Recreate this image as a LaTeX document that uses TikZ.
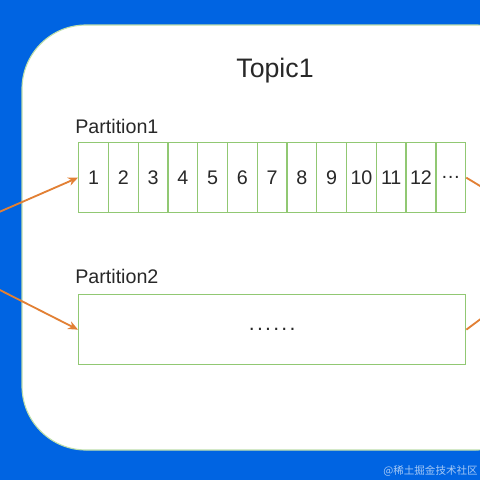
\documentclass[tikz,border=0pt]{standalone}
\usepackage{fontspec}
\setmainfont{Liberation Sans}
\newfontfamily\cjk{Noto Sans CJK SC}
\usetikzlibrary{positioning, arrows.meta}
\definecolor{bgblue}{RGB}{0,100,226}
\definecolor{cellgreen}{RGB}{145,200,115}
\definecolor{arroworange}{RGB}{226,128,52}
\definecolor{textgray}{RGB}{40,40,40}
\newcommand{\spaceddots}{.\hspace{1.6pt}.\hspace{1.6pt}.\hspace{1.6pt}.\hspace{1.6pt}.\hspace{1.6pt}.}

\begin{document}
\begin{tikzpicture}[x=0.025cm, y=-0.025cm,
        cell/.style={draw=cellgreen, line width=0.9pt, rectangle, minimum width=0.744cm, minimum height=1.75cm, inner sep=0pt, anchor=north west, text=textgray, font=\fontsize{14}{16}\selectfont},
        bigcell/.style={draw=cellgreen, line width=0.9pt, rectangle, minimum width=9.675cm, minimum height=1.75cm, inner sep=0pt, anchor=north west, text=textgray, font=\fontsize{14}{16}\selectfont},
        label/.style={anchor=base west, inner sep=0pt, text=textgray, font=\fontsize{14}{16}\selectfont},
        arrow/.style={-{Stealth[length=7pt, width=6pt]}, arroworange, line width=1.3pt},
        line/.style={arroworange, line width=1.3pt}
    ]
    % Background and topic frame
    \useasboundingbox (0,0) rectangle (480,480);
    \fill[bgblue] (0,0) rectangle (480,480);
    \begin{scope}
        \clip (0,0) rectangle (480,480);
        \draw[fill=white, draw=cellgreen!60, line width=0.8pt, rounded corners=1.6cm] (22,25) rectangle (540,450);
    \end{scope}
    \node[anchor=base, inner sep=0pt, text=textgray, font=\fontsize{19}{22}\selectfont] (topic) at (275,77) {Topic1};

    % Partition1
    \node[label] (lab1) at (75,133) {Partition1};
    \foreach \t [count=\i] in {1,...,12,{\raisebox{-1.5pt}{\char"2026}}}
        \node[cell] (c\i) at ({78+(\i-1)*29.77},142) {\t};

    % Partition2
    \node[label] (lab2) at (75,283) {Partition2};
    \node[bigcell, font=\fontsize{15}{18}\selectfont] (p2) at (78,294) {\raisebox{-1.5pt}{\spaceddots}};

    % Arrows in and out
    \coordinate (in1) at (-10,216);
    \coordinate (in2) at (-10,285);
    \coordinate (out1) at (490,192);
    \coordinate (out2) at (490,312);
    \draw[arrow] (in1) -- (c1.west);
    \draw[arrow] (in2) -- (p2.west);
    \draw[line] (c13.east) -- (out1);
    \draw[line] (p2.east) -- (out2);

    % Watermark
    \node[anchor=base east, inner sep=0pt, text=white!65!bgblue, font=\cjk\fontsize{7.5}{9}\selectfont] (mark) at (478,474) {@稀土掘金技术社区};
\end{tikzpicture}
\end{document}
